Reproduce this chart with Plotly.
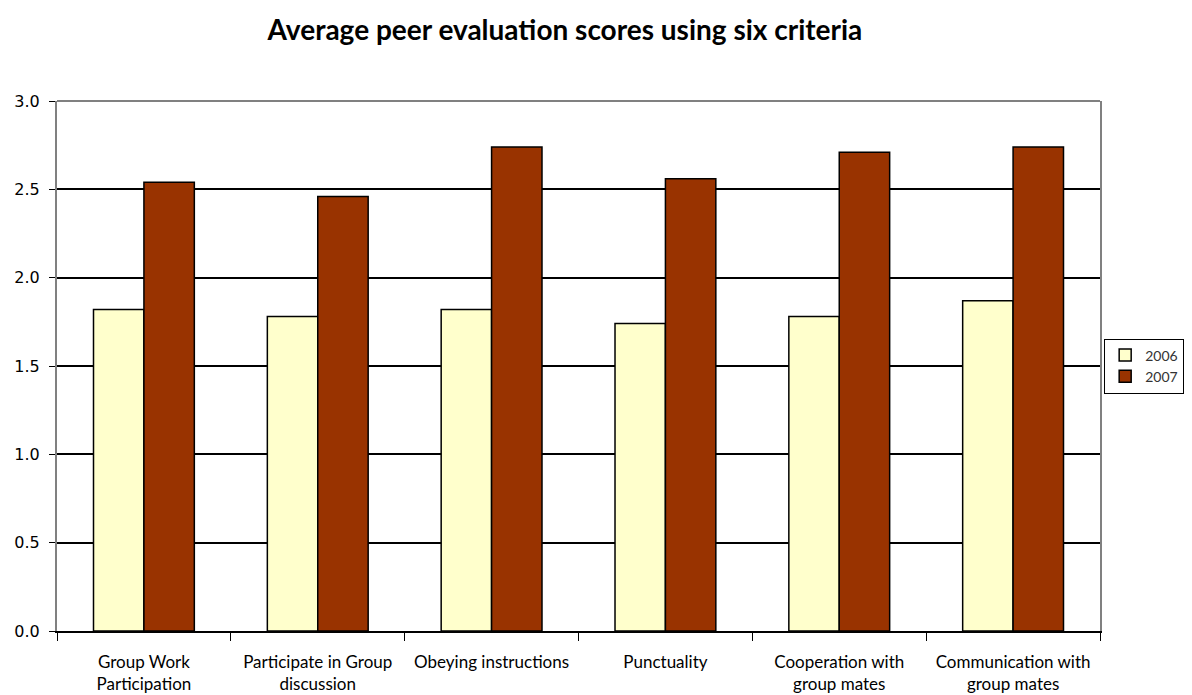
import plotly.graph_objects as go

categories = ["Group Work<br>Participation", "Participate in Group<br>discussion",
              "Obeying instructions", "Punctuality",
              "Cooperation with<br>group mates", "Communication with<br>group mates"]
scores_2006 = [1.82, 1.78, 1.82, 1.74, 1.78, 1.87]
scores_2007 = [2.54, 2.46, 2.74, 2.56, 2.71, 2.74]
y_ticks = [0.0, 0.5, 1.0, 1.5, 2.0, 2.5, 3.0]

fig = go.Figure()
fig.add_trace(go.Bar(name="2006", x=categories, y=scores_2006,
                     marker=dict(color="#FFFFCC", line=dict(color="black", width=1.5))))
fig.add_trace(go.Bar(name="2007", x=categories, y=scores_2007,
                     marker=dict(color="#993300", line=dict(color="black", width=1.5))))

fig.update_layout(
    width=1184, height=687,
    margin=dict(l=49, r=92, t=93, b=64, autoexpand=False),
    paper_bgcolor="white", plot_bgcolor="white",
    barmode="group", bargap=0.42, bargroupgap=0,
    title=dict(text="<b>Average peer evaluation scores using six criteria</b>",
               x=0.4704, xanchor="center", y=0.968, yanchor="middle",
               font=dict(family="Lato", size=28, color="black")),
    legend=dict(x=1.004, xanchor="left", y=0.5, yanchor="middle",
                bordercolor="black", borderwidth=1,
                font=dict(family="Lato", size=14, color="#333333"),
                itemwidth=30, tracegroupgap=10),
    showlegend=True,
)
fig.update_xaxes(showline=True, linecolor="black", linewidth=1.5,
                 ticks="outside", tickson="boundaries", ticklen=8, tickcolor="black",
                 tickfont=dict(family="Lato", size=17, color="black"),
                 ticklabelstandoff=15,
                 showgrid=False)
fig.update_yaxes(range=[0, 3.0], tickvals=y_ticks, tickformat=".1f",
                 showline=True, linecolor="#808080", linewidth=2, mirror=True,
                 ticks="outside", ticklen=6, tickcolor="black",
                 ticklabelstandoff=6,
                 showgrid=True, gridcolor="black", gridwidth=1.5,
                 tickfont=dict(family="DejaVu Sans", size=16, color="black"))
fig.add_shape(type="line", xref="paper", yref="paper", x0=0, x1=1, y0=1, y1=1,
              line=dict(color="#808080", width=2))

fig.write_html("out.html")
